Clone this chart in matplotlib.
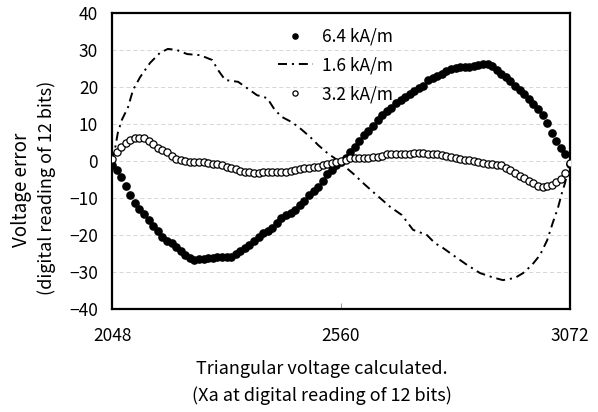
import matplotlib
matplotlib.use("Agg")
import matplotlib.pyplot as plt
import numpy as np

plt.rcParams["font.family"] = ["Noto Sans CJK JP", "DejaVu Sans"]
plt.rcParams["lines.scale_dashes"] = False

# sample grid of the two marker series (101 readings from 2048 to 3072)
x_points = np.linspace(2048, 3072, 101)

err_64 = [
    -1.0, -2.5, -4.3, -6.8, -9.3, -11.3, -13.0, -14.3, -16.0, -17.6,
    -19.0, -20.5, -21.5, -22.2, -23.3, -24.3, -25.3, -26.2, -26.8, -26.6,
    -26.4, -26.3, -26.1, -26.0, -25.9, -26.0, -26.0, -25.2, -24.4, -23.6,
    -22.6, -21.6, -20.5, -19.5, -18.8, -18.1, -16.8, -15.5, -14.6, -14.0,
    -13.2, -12.0, -10.8, -9.2, -8.0, -7.0, -5.3, -3.6, -2.3, -1.2,
    -0.2, 0.8, 2.3, 3.9, 5.4, 6.9, 8.0, 9.4, 11.0, 12.3,
    13.5, 14.4, 15.6, 16.6, 17.4, 18.2, 19.0, 19.7, 20.3, 21.9,
    22.5, 23.0, 23.5, 24.2, 24.9, 25.2, 25.3, 25.4, 25.5, 25.8,
    26.0, 26.3, 26.2, 25.6, 24.6, 23.6, 22.6, 21.5, 20.4, 19.3,
    18.0, 16.8, 15.5, 14.0, 12.3, 10.3, 7.5, 5.4, 3.4, 1.8,
    -0.8,
]

err_32 = [
    0.5, 2.3, 3.8, 5.0, 5.7, 6.1, 6.3, 6.3, 5.4, 4.6,
    3.6, 2.9, 2.3, 1.3, 0.5, 0.2, 0.0, -0.2, -0.3, -0.4,
    -0.4, -0.5, -0.7, -0.9, -1.2, -1.6, -1.9, -2.2, -2.6, -3.0,
    -3.1, -3.2, -3.3, -3.1, -3.0, -3.0, -2.9, -3.0, -3.0, -2.7,
    -2.4, -2.2, -2.0, -1.9, -1.7, -1.5, -1.2, -0.9, -0.5, -0.2,
    0.1, 0.4, 0.7, 0.8, 0.8, 0.8, 0.9, 1.0, 1.1, 1.4,
    1.8, 1.9, 1.9, 1.9, 1.9, 2.0, 2.1, 2.2, 2.1, 2.0,
    1.9, 1.9, 1.6, 1.3, 1.1, 0.8, 0.6, 0.4, 0.2, 0.0,
    -0.2, -0.5, -0.7, -0.9, -1.0, -1.2, -1.8, -2.5, -3.2, -4.0,
    -4.7, -5.4, -6.0, -6.8, -7.0, -6.8, -6.4, -5.8, -4.8, -3.2,
    -0.5,
]

# 1.6 kA/m curve, read at its turning points
x_16 = [2048, 2055, 2061, 2070, 2084, 2095, 2111, 2133, 2155, 2173,
        2193, 2216, 2245, 2272, 2285, 2301, 2330, 2350, 2372, 2395,
        2412, 2428, 2450, 2468, 2491, 2509, 2529, 2551, 2591, 2607,
        2632, 2652, 2670, 2696, 2721, 2752, 2770, 2788, 2810, 2842,
        2871, 2898, 2922, 2949, 2967, 2987, 3005, 3021, 3034, 3045,
        3054, 3061, 3068, 3072]
err_16 = [0.0, 3.5, 7.6, 11.1, 14.6, 19.2, 22.7, 26.5, 29.2, 30.3,
          30.0, 28.9, 28.6, 27.3, 24.6, 21.9, 21.4, 19.7, 17.8, 17.0,
          13.8, 11.9, 10.5, 8.9, 6.5, 4.3, 2.2, 0.3, -3.8, -5.7,
          -8.4, -10.5, -12.4, -14.6, -18.6, -20.0, -22.2, -23.5, -25.4, -28.1,
          -30.3, -31.4, -32.2, -31.6, -30.3, -28.1, -25.4, -21.4, -16.5, -12.7,
          -8.6, -5.9, -2.4, 0.0]

labels = ["6.4 kA/m", "1.6 kA/m", "3.2 kA/m"]

fig = plt.figure(figsize=(5.98, 4.12), dpi=100)
ax = fig.add_axes([112 / 598, 103 / 412, 458 / 598, 296 / 412])

ax.plot(x_points, err_64, "o", color="black", markersize=5.2, label=labels[0], zorder=3)
ax.plot(x_16, err_16, color="black", linewidth=1.4,
        linestyle=(0, (6.5, 3.5, 1.5, 3.5)), label=labels[1], zorder=2)
ax.plot(x_points, err_32, "o", markerfacecolor="white", markeredgecolor="black",
        markeredgewidth=0.9, markersize=5.2, label=labels[2], zorder=3)

ax.set_xlim(2048, 3072)
ax.set_ylim(-40, 40)
ax.set_xticks([2048, 2560, 3072])
ax.set_yticks(range(-40, 41, 10))
ax.grid(axis="y", color="#d0d0d0", linestyle=(0, (3, 2)), linewidth=0.6)
ax.set_axisbelow(True)
for s in ax.spines.values():
    s.set_linewidth(1.6)
ax.tick_params(axis="y", length=0, pad=10, labelsize=12.5)
ax.tick_params(axis="x", direction="in", length=4, width=0.6, color="#888888",
               pad=13, labelsize=12.5)

ax.legend(loc="upper left", bbox_to_anchor=(0.362, 0.95), frameon=False,
          fontsize=12.5, borderpad=0, borderaxespad=0, handlelength=2.0,
          handletextpad=0.55, labelspacing=0.62, markerscale=0.72)

fig.text(22 / 598, 1 - 190 / 412, "Voltage error", rotation=90,
         ha="center", va="center", fontsize=13.5)
fig.text(47 / 598, 1 - 188 / 412, "(digital reading of 12 bits)", rotation=90,
         ha="center", va="center", fontsize=13)
fig.text(322 / 598, 1 - 369 / 412, "Triangular voltage calculated.",
         ha="center", va="center", fontsize=13)
fig.text(322 / 598, 1 - 396 / 412, "(Xa at digital reading of 12 bits)",
         ha="center", va="center", fontsize=13)

fig.savefig("out.png", dpi=100)
